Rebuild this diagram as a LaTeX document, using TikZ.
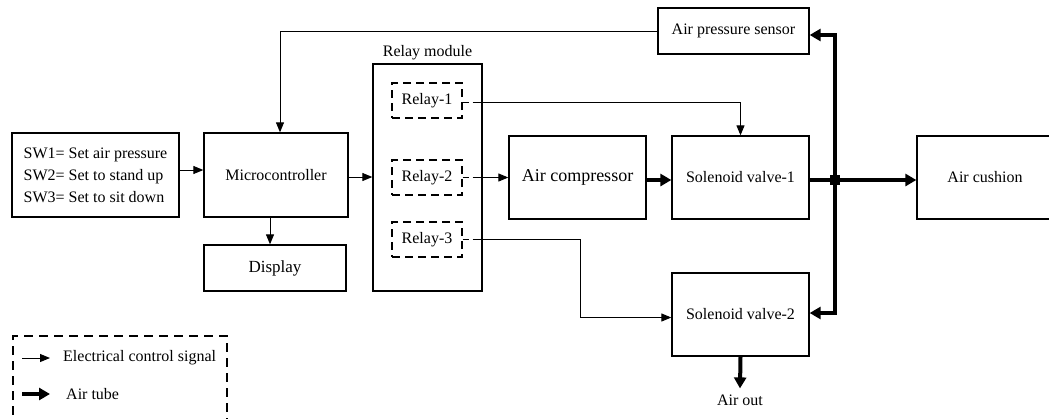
\documentclass[tikz,border=0pt]{standalone}
\usepackage{fontspec}
\setmainfont{Liberation Serif}
\usetikzlibrary{arrows.meta,calc}

\newcommand\txtsize{\fontsize{16}{22}\selectfont}

\tikzset{
  blk/.style={draw, line width=1.3pt, minimum width=#1, inner sep=0pt, align=center, font=\txtsize},
  relaybox/.style={draw, line width=1.3pt, dash pattern=on 8pt off 5pt, minimum width=70pt, minimum height=35pt, inner sep=0pt, font=\txtsize},
  sig/.style={line width=1pt, -{Triangle[length=10pt,width=8pt]}},
  tube/.style={line width=4pt, -{Triangle[length=11pt,width=12pt]}},
  tubeline/.style={line width=4pt},
  lbl/.style={font=\txtsize, inner sep=0pt}
}

\begin{document}
\begin{tikzpicture}[x=1pt, y=-1pt]
\useasboundingbox (0,0) rectangle (1049,418);

% blocks
\node[blk=167pt, minimum height=84pt, align=left] (sw) at (95.5,175)
  {SW1= Set air pressure\\SW2= Set to stand up\\SW3= Set to sit down};
\node[blk=144pt, minimum height=84pt] (mc) at (276,175) {Microcontroller};
\node[blk=142pt, minimum height=46pt, font=\fontsize{17}{20}\selectfont] (disp) at (275,268) {Display};

\node[blk=109pt, minimum height=227pt] (rm) at (427.5,177.5) {};
\node[lbl, anchor=south] (rmlabel) at (427.5,60) {Relay module};
\node[relaybox] (r1) at (427,100.5) {Relay-1};
\node[relaybox] (r2) at (427,177.5) {Relay-2};
\node[relaybox] (r3) at (427,239.5) {Relay-3};

\node[blk=137pt, minimum height=83pt, font=\fontsize{18}{20}\selectfont] (comp) at (577.5,177.5) {Air compressor};
\node[blk=137pt, minimum height=83pt] (sv1) at (740.5,177.5) {Solenoid valve-1};
\node[blk=137pt, minimum height=83pt] (sv2) at (740.5,314.5) {Solenoid valve-2};
\node[blk=151pt, minimum height=46pt] (aps) at (733.5,31) {Air pressure sensor};
\node[blk=136pt, minimum height=83pt] (cush) at (985,177.5) {Air cushion};
\node[lbl] (out) at (740,400) {Air out};

% electrical control signals
\draw[sig] ([yshift=5pt]sw.east) -- ([yshift=5pt]mc.west);
\draw[sig] ([yshift=-2pt]mc.east) -- ([yshift=-2pt]mc.east -| rm.west);
\draw[sig] ([xshift=-6pt]mc.south) -- ([xshift=-6pt]mc.south |- disp.north);
\draw[sig] (aps.west) -| ([xshift=4pt]mc.north);

\draw[line width=1pt, dash pattern=on 6pt off 4pt] ([yshift=-1.5pt]r1.east) -- ++(13,0) coordinate (r1o);
\draw[sig] (r1o) -| (sv1.north);
\draw[line width=1pt, dash pattern=on 6pt off 4pt] (r2.east) -- ++(13,0) coordinate (r2o);
\draw[sig] (r2o) -- (r2o -| comp.west);
\draw[line width=1pt, dash pattern=on 6pt off 4pt] (r3.east) -- ++(13,0) coordinate (r3o);
\coordinate (r3bend) at (580,0);
\draw[sig] (r3o) -| ([yshift=-3pt]sv2.west -| r3bend) -- ([yshift=-3pt]sv2.west);

% air tubes
\coordinate (jn) at (835,180);
\draw[tube] (comp.east |- jn) -- (sv1.west |- jn);
\draw[tubeline] (sv1.east |- jn) -- (jn);
\draw[tube] (jn) -- (cush.west |- jn);
\draw[tube] (jn) -- (jn |- 0,35) -- (aps.east |- 0,35);
\draw[tube] (jn) -- (jn |- 0,313) -- (sv2.east |- 0,313);
\fill (jn) ++(-5,-5) rectangle ++(10,10);
\draw[tube] (sv2.south) -- ([yshift=6pt]out.north);

% legend
\draw[line width=1.3pt, dash pattern=on 9pt off 6pt] (13,430) -- (13,336) -- (227,336) -- (227,430);
\coordinate (lg1) at (22,358);
\coordinate (lg2) at (22,394);
\draw[sig] (lg1) -- ++(28,0);
\node[lbl, anchor=west] (lgt1) at (63,358) {Electrical control signal};
\draw[tube] (lg2) -- ++(28,0);
\node[lbl, anchor=west] (lgt2) at (66,394) {Air tube};
\end{tikzpicture}
\end{document}
